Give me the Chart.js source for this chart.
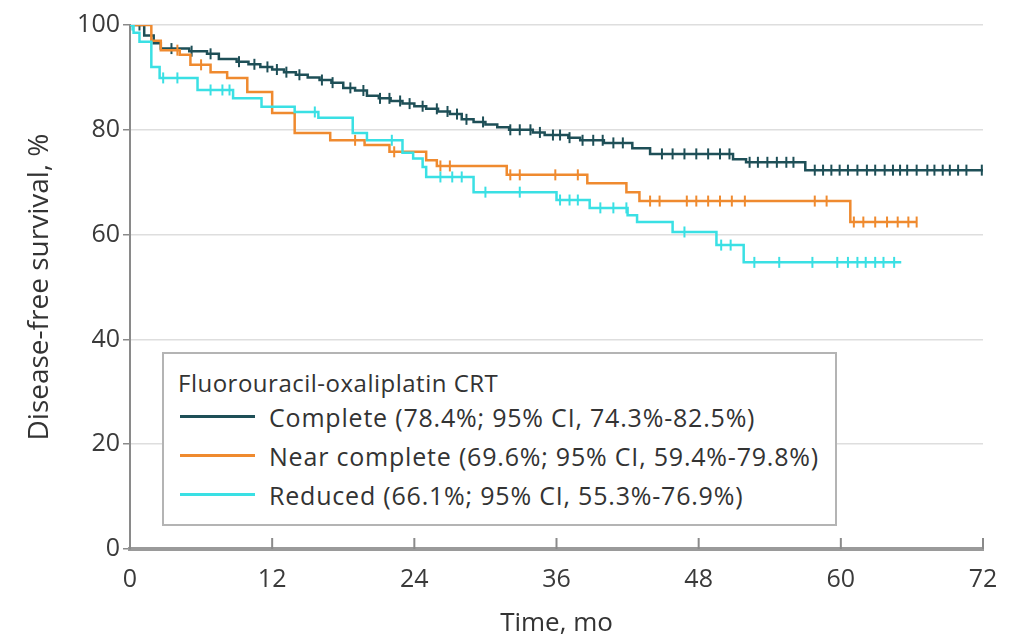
<!DOCTYPE html>
<html>
<head>
<meta charset="utf-8">
<script src="https://cdn.jsdelivr.net/npm/chart.js@4"></script>
<style>
  body { margin: 0; background: #fff; }
  #wrap { position: relative; width: 1020px; height: 643px; }
  #legend {
    position: absolute; left: 162px; top: 352px; width: 643px;
    border: 2px solid #b4b4b4; background: #fff;
    padding: 15px 14px 10px 14px;
    font-family: "Open Sans", sans-serif; font-size: 25px; color: #333;
    letter-spacing: 0.8px;
  }
  #legend .ttl { line-height: 28px; font-size: 24px; letter-spacing: 0.5px; }
  #legend .row { height: 39px; display: flex; align-items: center; white-space: nowrap; }
  #legend .swatch { width: 75px; height: 3px; margin: 0 14px 0 2px; flex: none; }
</style>
</head>
<body>
<div id="wrap">
  <canvas id="chart" width="1020" height="643"></canvas>
  <div id="legend"></div>
</div>
<script>
// Kaplan-Meier steps (months, disease-free survival %)
const completeTimes = [0, 1.2, 2.0, 2.6, 5, 6.5, 7.5, 9, 10, 11, 12, 13, 14, 15, 16, 17, 18, 19, 20, 21, 22, 23, 24, 25, 26, 27, 28, 29, 30, 31, 32, 34, 35, 37, 38, 40, 42.4, 43.9, 50.9, 52, 57, 72]
const completeSurv = [100, 98, 96.5, 95.5, 95, 94.5, 93.5, 93, 92.5, 92, 91.5, 91, 90.5, 90, 89.5, 89, 88, 87.5, 86.5, 86, 85.5, 85, 84.5, 84, 83.5, 83, 82, 81.5, 81, 80.5, 80, 79.5, 79, 78.5, 78, 77.5, 76.5, 75.4, 74.4, 73.8, 72.3, 72.3]

const nearTimes = [0, 1.8, 2.6, 4.2, 5.1, 6.8, 8.2, 9.9, 12.0, 13.9, 16.9, 19.8, 21.9, 25.0, 25.9, 31.8, 38.6, 41.9, 43.0, 60.8, 66.4]
const nearSurv = [100, 97, 95.2, 94.3, 92.4, 91, 89.9, 87.2, 83.2, 79.4, 78, 77.1, 75.8, 74.2, 73.1, 71.4, 69.8, 68.1, 66.4, 62.4, 62.4]

const reducedTimes = [0, 0.3, 0.8, 1.8, 2.5, 5.7, 8.7, 11.1, 13.9, 15.9, 18.8, 20.0, 23.0, 23.9, 24.7, 25.0, 29.0, 36.0, 38.8, 42.0, 42.8, 45.8, 49.5, 51.8, 65.1]
const reducedSurv = [100, 98.5, 96.8, 92, 89.9, 87.6, 86, 84.4, 83.4, 82.3, 79.4, 78, 75.6, 74.5, 72.9, 71, 68.1, 66.6, 65.1, 63.7, 62.4, 60.5, 58, 54.7, 54.7]

// censoring marks (months)
const completeCensor = [0.8, 3.5, 5.2, 6.8, 9.2, 10.5, 11.6, 12.4, 13.2, 14.3, 16.2, 17.1, 18.6, 19.7, 21.1, 21.9, 22.8, 23.6, 24.7, 25.9, 26.8, 27.6, 28.4, 29.8, 32.1, 32.9, 33.8, 34.6, 35.7, 36.3, 37.1, 38.2, 39.1, 39.9, 40.8, 41.6, 44.9, 45.8, 46.8, 47.8, 48.8, 49.8, 50.6, 52.3, 53, 53.8, 54.6, 55.4, 56, 57.8, 58.5, 59.2, 59.9, 60.6, 61.4, 62.2, 62.9, 63.7, 64.4, 65.0, 65.6, 66.4, 67.3, 67.9, 68.6, 69.2, 69.9, 70.6, 71.9]
const nearCensor = [4, 6, 19, 22.3, 26.2, 27, 32.1, 32.9, 35.9, 37.8, 43.9, 44.7, 47, 47.8, 48.8, 49.8, 50.8, 51.9, 57.8, 58.8, 61.1, 61.9, 62.9, 63.9, 64.8, 65.7, 66.4]
const reducedCensor = [0.2, 2.8, 4, 6.8, 7.8, 8.4, 15.6, 22.1, 26.2, 27.2, 28, 30, 32.9, 36.3, 37.1, 37.8, 39.7, 40.8, 41.9, 46.8, 49.9, 50.7, 52.7, 54.8, 57.6, 59.7, 60.6, 61.4, 62.1, 62.9, 63.6, 64.5]

const seriesLabels = ['Complete (78.4%; 95% CI, 74.3%-82.5%)', 'Near complete (69.6%; 95% CI, 59.4%-79.8%)', 'Reduced (66.1%; 95% CI, 55.3%-76.9%)']
const seriesColors = ['#1e4f57', '#ef8a2f', '#3ae0e4']
const legendTitle = 'Fluorouracil-oxaliplatin CRT'

const xTicks = [0, 12, 24, 36, 48, 60, 72]
const yTicks = [0, 20, 40, 60, 80, 100]

const FONT = '"Open Sans", sans-serif'

function steps(times, surv) {
    return times.map((t, i) => ({ x: t, y: surv[i] }))
}

// place a censor mark on the curve it belongs to
function survAt(times, surv, t) {
    let s = surv[0]
    for (let i = 0; i < times.length; i++) {
        if (times[i] <= t) s = surv[i]
    }
    return s
}

function marks(censor, times, surv) {
    return censor.map(t => ({ x: t, y: survAt(times, surv, t) }))
}

const groups = [
    { times: completeTimes, surv: completeSurv, censor: completeCensor },
    { times: nearTimes, surv: nearSurv, censor: nearCensor },
    { times: reducedTimes, surv: reducedSurv, censor: reducedCensor },
]

const datasets = []
// draw reduced first so complete ends up on top
for (let i = groups.length - 1; i >= 0; i--) {
    const g = groups[i]
    datasets.push({
        label: seriesLabels[i],
        data: steps(g.times, g.surv),
        borderColor: seriesColors[i],
        borderWidth: 2.5,
        stepped: 'before',
        pointRadius: 0,
        fill: false,
    })
    datasets.push({
        label: seriesLabels[i] + ' censored',
        data: marks(g.censor, g.times, g.surv),
        borderColor: seriesColors[i],
        backgroundColor: seriesColors[i],
        showLine: false,
        pointStyle: 'line',
        rotation: 90,
        pointRadius: 5.5,
        pointBorderWidth: 2,
    })
}

// x tick marks point up into the plot, as in the figure
const innerTicks = {
    id: 'innerTicks',
    afterDraw(chart) {
        const ctx = chart.ctx
        const x = chart.scales.x
        const bottom = chart.chartArea.bottom
        ctx.save()
        ctx.strokeStyle = '#8a8a8a'
        ctx.lineWidth = 2
        xTicks.forEach(v => {
            const px = x.getPixelForValue(v)
            ctx.beginPath()
            ctx.moveTo(px, bottom)
            ctx.lineTo(px, bottom - 11)
            ctx.stroke()
        })
        ctx.restore()
    }
}

const ctx = document.getElementById('chart').getContext('2d')
const kmChart = new Chart(ctx, {
    type: 'line',
    data: { datasets: datasets },
    options: {
        responsive: false,
        animation: false,
        layout: { padding: { left: 0, right: 37, top: 25, bottom: 0 } },
        plugins: {
            legend: { display: false },
            tooltip: { enabled: false },
        },
        scales: {
            x: {
                type: 'linear',
                min: 0,
                max: 72,
                afterFit: (s) => { s.height = 94 },
                afterBuildTicks: (s) => { s.ticks = xTicks.map(v => ({ value: v })) },
                grid: { display: true, drawOnChartArea: false, drawTicks: false },
                border: { color: '#9a9a9a', width: 4 },
                ticks: { color: '#3a3a3a', padding: 16, font: { family: FONT, size: 25 }, maxRotation: 0 },
                title: { display: true, text: 'Time, mo', color: '#333', font: { family: FONT, size: 26 }, padding: { top: 0 } },
            },
            y: {
                min: 0,
                max: 100,
                afterFit: (s) => { s.width = 130 },
                afterBuildTicks: (s) => { s.ticks = yTicks.map(v => ({ value: v })) },
                grid: { color: '#dedede', lineWidth: 1.5, tickColor: '#8a8a8a', tickLength: 7 },
                border: { color: '#8a8a8a', width: 2 },
                ticks: { color: '#3a3a3a', padding: 3, font: { family: FONT, size: 25 } },
                title: { display: true, text: 'Disease-free survival, %', color: '#333', font: { family: FONT, size: 28 }, padding: { top: 23 } },
            },
        },
    },
    plugins: [innerTicks],
})

// legend box drawn as html on top of the plot
const legend = document.getElementById('legend')
const ttl = document.createElement('div')
ttl.className = 'ttl'
ttl.textContent = legendTitle
legend.appendChild(ttl)
seriesLabels.forEach((lab, i) => {
    const row = document.createElement('div')
    row.className = 'row'
    const sw = document.createElement('span')
    sw.className = 'swatch'
    sw.style.background = seriesColors[i]
    const tx = document.createElement('span')
    tx.textContent = lab
    row.appendChild(sw)
    row.appendChild(tx)
    legend.appendChild(row)
})
</script>
</body>
</html>
